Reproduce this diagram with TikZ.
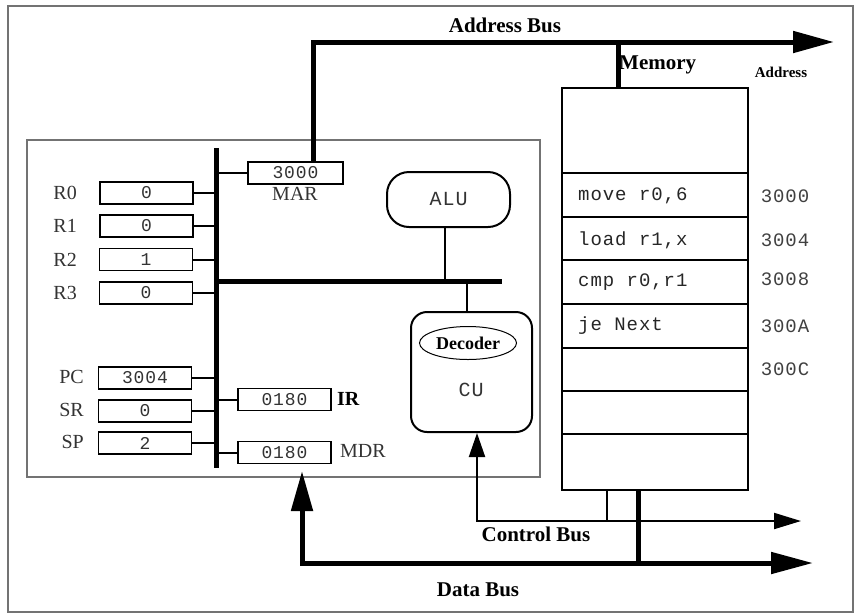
\documentclass[tikz,border=0pt]{standalone}
\usepackage{fontspec}
\setmainfont{Liberation Serif}
\newfontfamily\monof[LetterSpace=5]{Liberation Mono}
\usetikzlibrary{arrows.meta,shapes.geometric}
\tikzset{
  frameline/.style={draw=black!55,line width=1.6pt},
  reg/.style={draw,line width=1.3pt,minimum width=93pt,minimum height=22pt,inner sep=0pt,font=\monof\fontsize{18}{18}\selectfont,text=black!80},
  lbl/.style={font=\fontsize{20}{20}\selectfont,text=black!80,inner sep=0pt},
  blbl/.style={font=\bfseries\fontsize{21}{21}\selectfont,inner sep=0pt},
  memtxt/.style={font=\monof\fontsize{19}{19}\selectfont,text=black!85,inner sep=0pt,anchor=west},
  addrtxt/.style={font=\monof\fontsize{19}{19}\selectfont,text=black!75,inner sep=0pt},
  wire/.style={line width=2pt},
  busline/.style={line width=5pt},
  bigtip/.style={-{Triangle[length=41pt,width=21pt]}},
}
\begin{document}
\begin{tikzpicture}[x=1pt,y=-1pt]
\useasboundingbox (0,0) rectangle (858,614);
\fill[white] (0,0) rectangle (858,614);
% outer frame
\draw[frameline] (8,6) rectangle (853,612);
% CPU box
\draw[frameline] (27,140) rectangle (540,477);

% internal buses
\coordinate (bt) at (216,148);
\coordinate (bb) at (216,468);
\draw[busline] (bt) -- (bb);
\coordinate (hb1) at (216,281);
\coordinate (hb2) at (502,281);
\draw[busline] (hb1) -- (hb2);

% registers
\node[reg] (r0) at (146.5,193) {0};
\node[reg] (r1) at (146.5,226) {0};
\node[reg] (r2) at (146,259.5) {1};
\node[reg] (r3) at (146,293) {0};
\node[reg] (pc) at (145,378) {3004};
\node[reg] (sr) at (145,411) {0};
\node[reg] (sp) at (145,443) {2};
\node[lbl,anchor=east] (lr0) at (77,193) {R0};
\node[lbl,anchor=east] (lr1) at (77,226) {R1};
\node[lbl,anchor=east] (lr2) at (77,259.5) {R2};
\node[lbl,anchor=east] (lr3) at (77,293) {R3};
\node[lbl,anchor=east] (lpc) at (84,377) {PC};
\node[lbl,anchor=east] (lsr) at (84,410) {SR};
\node[lbl,anchor=east] (lsp) at (84,442) {SP};
\foreach \r in {r0,r1,r2,r3,pc,sr,sp}{
  \draw[wire] (\r.east) -- (\r.east -| bt);
}

% MAR, IR, MDR
\node[reg,minimum width=95pt] (mar) at (295.5,173) {3000};
\node[lbl] (lmar) at (295,194) {MAR};
\draw[wire] (mar.west) -- (mar.west -| bt);
\node[reg] (ir) at (284.5,399.5) {0180};
\node[blbl,anchor=west,font=\bfseries\fontsize{20}{20}\selectfont] (lir) at (337,399) {IR};
\draw[wire] (ir.west) -- (ir.west -| bt);
\node[reg] (mdr) at (284.5,452.5) {0180};
\node[lbl,anchor=west] (lmdr) at (340,451) {MDR};
\draw[wire] (mdr.west) -- (mdr.west -| bt);

% ALU and CU
\node[draw,line width=2pt,rounded corners=22pt,minimum width=123pt,minimum height=55pt,
      font=\monof\fontsize{20}{20}\selectfont,text=black!80] (alu) at (448.5,199.5) {ALU};
\draw[wire] (alu.south -| 445,0) -- (445,281);
\node[draw,line width=2pt,rounded corners=16pt,minimum width=121pt,minimum height=120pt] (cu) at (471.5,372) {};
\node[draw,ellipse,line width=1pt,minimum width=97pt,minimum height=33pt,inner sep=0pt,
      font=\bfseries\fontsize{18}{18}\selectfont] (dec) at (468,343) {Decoder};
\node[font=\monof\fontsize{20}{20}\selectfont,text=black!80] (cul) at (471,390) {CU};
\draw[wire] (467,281) -- (cu.north -| 467,0);

% Memory
\node[draw,line width=1.5pt,minimum width=186pt,minimum height=402pt,inner sep=0pt] (mem) at (655,289) {};
\foreach \y in {173,217,260,304,348,391,434}{
  \draw[line width=1.5pt] (mem.west |- 0,\y) -- (mem.east |- 0,\y);
}
\node[memtxt] (m1) at (578,196) {move r0,6};
\node[memtxt] (m2) at (578,240) {load r1,x};
\node[memtxt] (m3) at (578,282) {cmp r0,r1};
\node[memtxt] (m4) at (578,326) {je Next};
\node[addrtxt] (a1) at (785,196) {3000};
\node[addrtxt] (a2) at (785,240) {3004};
\node[addrtxt] (a3) at (785,279) {3008};
\node[addrtxt] (a4) at (785,326) {300A};
\node[addrtxt] (a5) at (785,369) {300C};

% Address bus
\coordinate (ab1) at (313,42);
\coordinate (abend) at (834,42);
\coordinate (mtap) at (618,42);
\draw[busline,bigtip] (mar.north -| ab1) -- (ab1) -- (abend);
\draw[busline] (mtap) -- (mtap |- mem.north);
\node[blbl] (labus) at (505,25) {Address Bus};
\node[blbl,anchor=west] (lmem) at (619,65) {Memory};
\node[font=\bfseries\fontsize{15}{15}\selectfont,inner sep=0pt] (laddr) at (781,72) {Address};

% Control bus
\coordinate (cb1) at (477,521);
\coordinate (cbend) at (801,521);
\coordinate (ctap) at (607,521);
\draw[wire,{Triangle[length=24pt,width=16pt]}-{Triangle[length=27pt,width=16pt]}] (cu.south -| cb1) -- (cb1) -- (cbend);
\draw[wire] (ctap |- mem.south) -- (ctap);
\node[blbl] (lcbus) at (536,534) {Control Bus};

% Data bus
\coordinate (db0) at (302,471);
\coordinate (db1) at (302,563);
\coordinate (dbend) at (813,563);
\coordinate (dtap) at (638,563);
\draw[busline,{Triangle[length=40pt,width=21pt]}-{Triangle[length=42pt,width=21pt]}] (db0) -- (db1) -- (dbend);
\draw[busline] (dtap |- mem.south) -- (dtap);
\node[blbl] (ldbus) at (478,590) {Data Bus};
\end{tikzpicture}
\end{document}
